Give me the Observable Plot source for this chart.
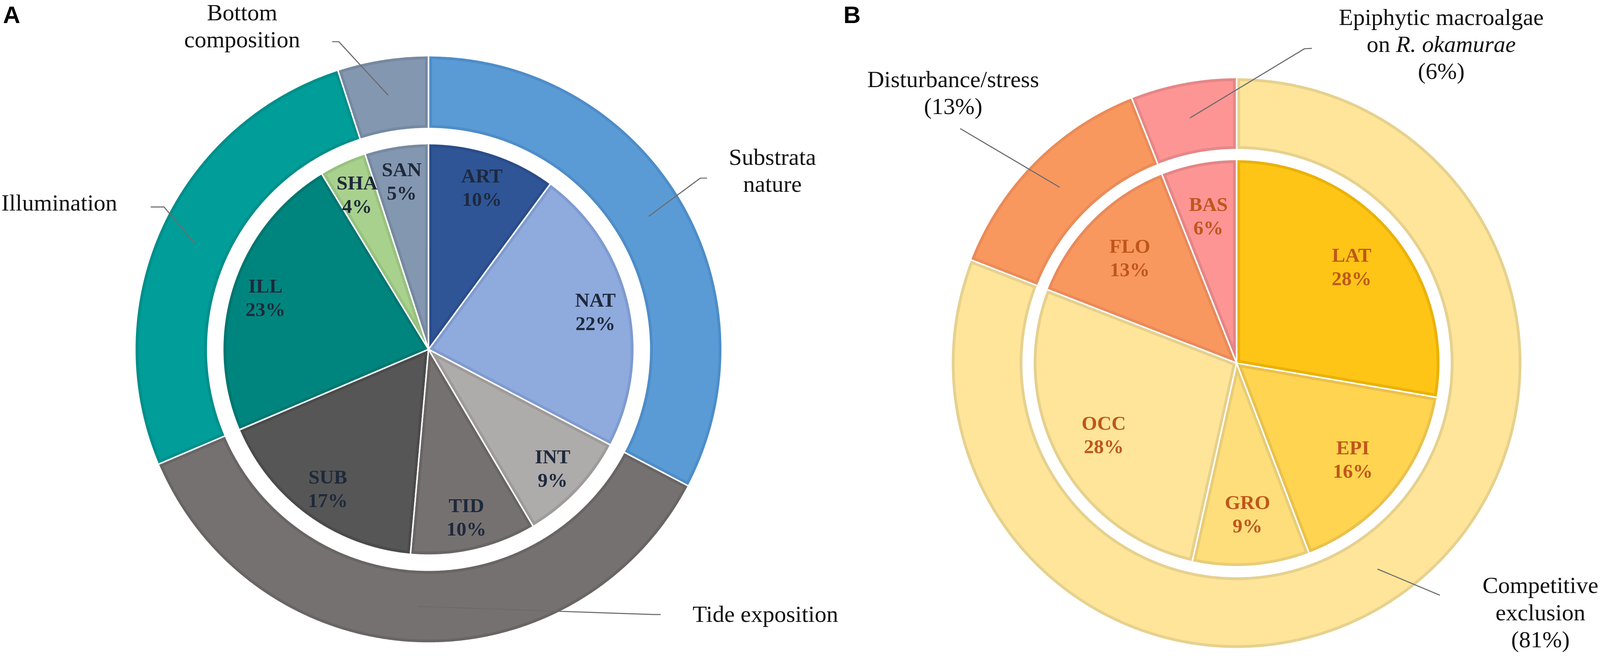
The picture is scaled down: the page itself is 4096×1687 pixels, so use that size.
<!DOCTYPE html>
<html>
<head>
<meta charset="utf-8">
<script src="https://cdn.jsdelivr.net/npm/d3@7"></script>
<script src="https://cdn.jsdelivr.net/npm/@observablehq/plot@0.6"></script>
<style>
html, body { margin: 0; padding: 0; background: #ffffff; overflow: hidden; }
svg { display: block; }
</style>
</head>
<body>
<script>
// ---------------- DATA ----------------
// Panel A – inner pie (clockwise from 12 o'clock)
const innerA = ["ART", "NAT", "INT", "TID", "SUB", "ILL", "SHA", "SAN"];
const innerAValues = [10.1, 22.6, 8.8, 9.9, 17.2, 22.7, 3.7, 5.0];
const innerAPct = ["10%", "22%", "9%", "10%", "17%", "23%", "4%", "5%"];
// Panel A – outer ring
const outerA = ["Substrata\nnature", "Tide exposition", "Illumination", "Bottom\ncomposition"];
const outerAValues = [32.7, 35.9, 26.4, 5.0];
// Panel B – inner pie
const innerB = ["LAT", "EPI", "GRO", "OCC", "FLO", "BAS"];
const innerBValues = [27.7, 16.5, 9.3, 27.4, 13.1, 6.0];
const innerBPct = ["28%", "16%", "9%", "28%", "13%", "6%"];
// Panel B – outer ring
const outerB = ["Competitive\nexclusion\n(81%)", "Disturbance/stress\n(13%)", "Epiphytic macroalgae\non R. okamurae\n(6%)"];
const outerBValues = [80.9, 13.1, 6.0];
const panelLetters = ["A", "B"];

// ---------------- STYLES ----------------
const innerAFill = ["#2F5597", "#8FAADC", "#AEABAB", "#767171", "#565656", "#00857E", "#A9D18E", "#8497B0"];
const innerAEdge = ["#2A4D8A", "#7F9BD0", "#9F9B9B", "#6A6565", "#4B4B4B", "#007770", "#98C27E", "#7789A2"];
const outerAFill = ["#5B9BD5", "#767171", "#009D99", "#8497B0"];
const outerAEdge = ["#4E8DC9", "#6A6565", "#008F8B", "#7789A2"];
const innerBFill = ["#FEC516", "#FED450", "#FEDE7A", "#FEE599", "#F8985F", "#FD9595"];
const innerBEdge = ["#EAB208", "#EAC14C", "#E8CD78", "#E6D08D", "#EA8A5B", "#E58585"];
const outerBFill = ["#FEE599", "#F8985F", "#FD9595"];
const outerBEdge = ["#E6D18E", "#EB8B58", "#E68787"];
const innerATextColor = "#1E293B";
const innerBTextColor = "#C0561C";

// ---------------- LAYOUT (reference pixel units) ----------------
const W = 4096, H = 1687;
const REF_W = 4550, REF_H = 1874;
const K = W / REF_W;                 // 0.9
const BAND = 10;                     // darker border band inside each slice
const layoutA = {cx: 1218, cy: 993, rPie: 585, rRing0: 628, rRing1: 835, rLabel: 487};
const layoutB = {cx: 3516, cy: 1032, rPie: 579, rRing0: 607, rRing1: 812, rLabel: 428};

const OUT_FS = 60, OUT_LH = 1.155;   // outer labels (output px)
const IN_FS = 51, IN_LH = 1.175;     // inner labels (output px)
const LETTER_FS = 61;

// outer labels: centre x, first baseline, leader elbow/end points
const outerALayout = [
  {x: 2196, b1: 468,  leader: [[1991, 506], [2010, 506]]},
  {x: 2176, b1: 1768, leader: [[1858, 1747], [1878, 1747]]},
  {x: 168,  b1: 598,  leader: [[466, 588], [428, 588]]},
  {x: 688,  b1: 57,   leader: [[963, 118], [944, 118]]}
];
const outerBLayout = [
  {x: 4380, b1: 1686, leader: [[4094, 1692]]},
  {x: 2710, b1: 247,  leader: [[2730, 365]]},
  {x: 4098, b1: 70,   leader: [[3709, 138], [3730, 137]]}
];
const letterLayout = [{x: 8, y: 43}, {x: 2398, y: 43}];

// ---------------- GEOMETRY ----------------
function pt(L, a, r) { return {x: L.cx + r * Math.sin(a), y: L.cy - r * Math.cos(a)}; }
function arcPts(L, r, a0, a1) {
  const n = Math.max(2, Math.ceil(Math.abs(a1 - a0) / (Math.PI / 720)));
  return d3.range(n + 1).map(i => pt(L, a0 + (a1 - a0) * i / n, r));
}
function sector(L, r0, r1, a0, a1, inset) {
  let pts;
  if (!inset) {
    pts = arcPts(L, r1, a0, a1);
    if (r0 > 0) pts = pts.concat(arcPts(L, r0, a1, a0));
    else pts.push(pt(L, 0, 0));
  } else {
    const R = r1 - inset, dR = Math.asin(inset / R);
    pts = arcPts(L, R, a0 + dR, a1 - dR);
    if (r0 > 0) {
      const r = r0 + inset, dr = Math.asin(inset / r);
      pts = pts.concat(arcPts(L, r, a1 - dr, a0 + dr));
    } else {
      const half = (a1 - a0) / 2;
      pts.push(pt(L, a0 + half, inset / Math.sin(half)));
    }
  }
  return pts;
}
function centerY(b1, n, fs, lh) {
  const f = fs / K;
  return b1 - (0.32 - (n - 1) / 2) * lh * f;
}

const edgePolys = [], fillPolys = [], leaders = [], innerLabels = [], outerLabels = [];

function build(tag, L, inNames, inVals, inPct, inFill, inEdge, inText,
               outNames, outVals, outFill, outEdge, outLayout) {
  const pie = d3.pie().sort(null);
  pie(inVals).forEach((a, i) => {
    const id = tag + "in" + i;
    sector(L, 0, L.rPie, a.startAngle, a.endAngle, 0).forEach(p => edgePolys.push({...p, id, color: inEdge[i]}));
    sector(L, 0, L.rPie, a.startAngle, a.endAngle, BAND).forEach(p => fillPolys.push({...p, id, color: inFill[i]}));
    const m = pt(L, (a.startAngle + a.endAngle) / 2, L.rLabel);
    innerLabels.push({...m, text: inNames[i] + "\n" + inPct[i], color: inText});
  });
  pie(outVals).forEach((a, i) => {
    const id = tag + "out" + i;
    sector(L, L.rRing0, L.rRing1, a.startAngle, a.endAngle, 0).forEach(p => edgePolys.push({...p, id, color: outEdge[i]}));
    sector(L, L.rRing0, L.rRing1, a.startAngle, a.endAngle, BAND).forEach(p => fillPolys.push({...p, id, color: outFill[i]}));
    const lay = outLayout[i];
    const s = pt(L, (a.startAngle + a.endAngle) / 2, (L.rRing0 + L.rRing1) / 2);
    leaders.push({...s, id: id + "L"});
    lay.leader.forEach(([x, y]) => leaders.push({x, y, id: id + "L"}));
    const n = outNames[i].split("\n").length;
    outerLabels.push({x: lay.x, y: centerY(lay.b1, n, OUT_FS, OUT_LH), text: outNames[i]});
  });
}
build("A", layoutA, innerA, innerAValues, innerAPct, innerAFill, innerAEdge, innerATextColor,
      outerA, outerAValues, outerAFill, outerAEdge, outerALayout);
build("B", layoutB, innerB, innerBValues, innerBPct, innerBFill, innerBEdge, innerBTextColor,
      outerB, outerBValues, outerBFill, outerBEdge, outerBLayout);
const letters = panelLetters.map((t, i) => ({...letterLayout[i], text: t}));

// ---------------- PLOT ----------------
const svg = Plot.plot({
  width: W, height: H, margin: 0,
  style: {background: "#ffffff"},
  x: {domain: [0, REF_W], range: [0, W], axis: null},
  y: {domain: [0, REF_H], range: [0, H], axis: null},
  color: {type: "identity"},
  marks: [
    Plot.line(edgePolys, {x: "x", y: "y", z: "id", fill: "color", stroke: "none", curve: "linear-closed"}),
    Plot.line(fillPolys, {x: "x", y: "y", z: "id", fill: "color", stroke: "none", curve: "linear-closed"}),
    Plot.line(edgePolys, {x: "x", y: "y", z: "id", fill: "none", stroke: "#ffffff", strokeWidth: 3.6, strokeLinejoin: "miter", curve: "linear-closed"}),
    Plot.line(leaders, {x: "x", y: "y", z: "id", stroke: "#6B6B6B", strokeWidth: 2.7, strokeLinecap: "butt"}),
    Plot.text(innerLabels, {x: "x", y: "y", text: "text", fill: "color", fontFamily: "Liberation Serif",
      fontWeight: "bold", fontSize: IN_FS, lineHeight: IN_LH, textAnchor: "middle"}),
    Plot.text(outerLabels, {x: "x", y: "y", text: "text", fill: "#111111", fontFamily: "Liberation Serif",
      fontSize: OUT_FS, lineHeight: OUT_LH, textAnchor: "middle"}),
    Plot.text(letters, {x: "x", y: "y", text: "text", fill: "#000000", fontFamily: "Liberation Sans",
      fontWeight: "bold", fontSize: LETTER_FS, lineHeight: 1, textAnchor: "start"})
  ]
});
document.body.appendChild(svg);

// italic species name inside the Epiphytic label
svg.querySelectorAll("tspan").forEach(ts => {
  if (ts.textContent === "on R. okamurae") {
    ts.textContent = "on ";
    const it = document.createElementNS("http://www.w3.org/2000/svg", "tspan");
    it.setAttribute("font-style", "italic");
    it.textContent = "R. okamurae";
    ts.appendChild(it);
  }
});
</script>
</body>
</html>
